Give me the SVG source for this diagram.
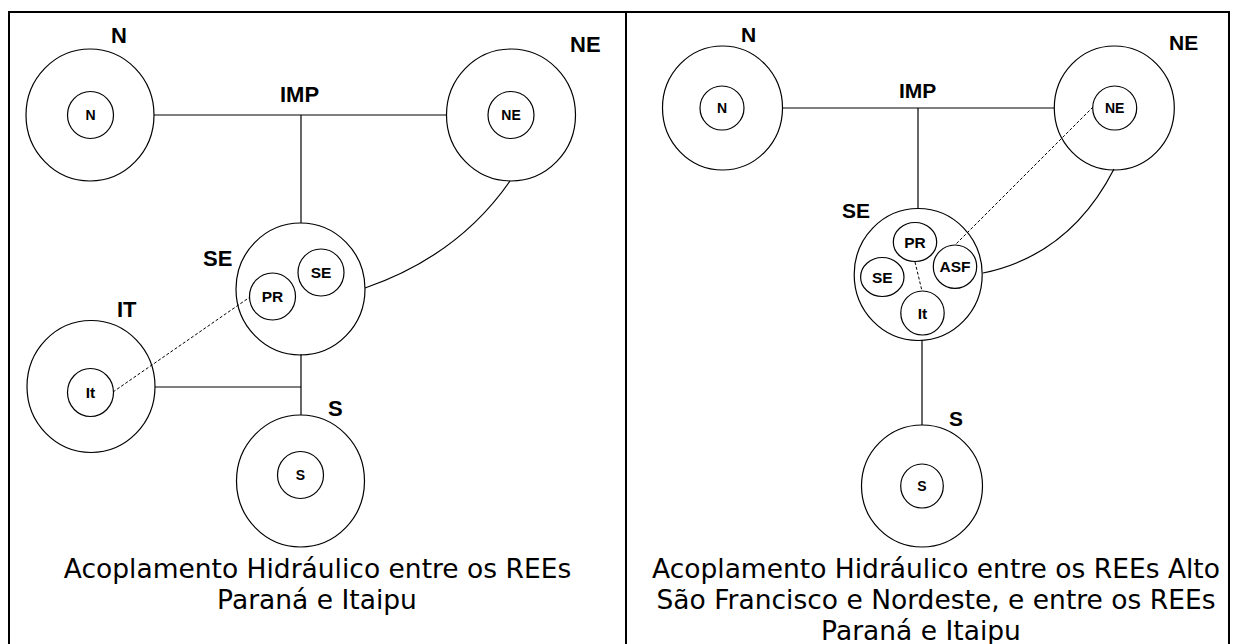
<svg xmlns="http://www.w3.org/2000/svg" width="1236" height="644" viewBox="0 0 1236 644">
<style>
.o{fill:none;stroke:#000;stroke-width:1.2}
.i{fill:none;stroke:#000;stroke-width:1.2}
.c{fill:none;stroke:#000;stroke-width:1.2}
.d{fill:none;stroke:#000;stroke-width:1;stroke-dasharray:3,2}
.L{font-family:"Liberation Sans",Arial,sans-serif;font-weight:bold;font-size:22px;fill:#000}
.R{font-family:"Liberation Sans",Arial,sans-serif;font-weight:bold;font-size:21px;fill:#000}
.s{font-family:"Liberation Sans",Arial,sans-serif;font-weight:bold;font-size:14px;fill:#000;text-anchor:middle}
.m{font-family:"Liberation Sans",Arial,sans-serif;font-weight:bold;font-size:15.5px;fill:#000;text-anchor:middle}
.cap{font-family:"DejaVu Sans",Verdana,sans-serif;font-size:26.5px;fill:#000;text-anchor:middle}
</style>
<rect x="0" y="0" width="1236" height="644" fill="#fff"/>
<g id="frame" fill="none" stroke="#000" stroke-width="2">
<rect x="9" y="12" width="1220" height="700"/>
<line x1="626" y1="12" x2="626" y2="644"/>
</g>
<g id="connectors">
<line class="c" x1="154" y1="115" x2="447" y2="115"/>
<line class="c" x1="301" y1="115" x2="301" y2="223"/>
<path class="c" d="M510 181 Q458 256 365 288"/>
<line class="c" x1="155" y1="387" x2="301" y2="387"/>
<line class="c" x1="301" y1="354" x2="301" y2="415"/>
<line class="d" x1="113" y1="392" x2="250" y2="297"/>
<line class="c" x1="783" y1="108" x2="1054" y2="108"/>
<line class="c" x1="918" y1="108" x2="918" y2="208"/>
<path class="c" d="M1114 169 Q1070 255 983 273"/>
<line class="c" x1="922" y1="340" x2="922" y2="425"/>
<line class="d" x1="1093" y1="107" x2="955" y2="245"/>
<line class="d" x1="915" y1="262" x2="922" y2="291"/>
</g>
<g id="left-N"><ellipse class="o" cx="90" cy="115" rx="64" ry="66"/><ellipse class="i" cx="90.5" cy="115" rx="23" ry="23.5"/><text class="s" x="90.5" y="120">N</text><text class="L" x="111" y="43">N</text></g>
<g id="left-IMP"><text class="L" x="280" y="102">IMP</text></g>
<g id="left-NE"><ellipse class="o" cx="511" cy="115" rx="64.5" ry="66"/><ellipse class="i" cx="511" cy="115" rx="23" ry="23.5"/><text class="s" x="511" y="120">NE</text><text class="L" x="570" y="52">NE</text></g>
<g id="left-SE"><ellipse class="o" cx="300.5" cy="289" rx="64.5" ry="66"/><ellipse class="i" cx="321" cy="272.5" rx="23" ry="23.5"/><text class="m" x="321" y="278">SE</text><ellipse class="i" cx="272.5" cy="296.5" rx="23" ry="23.5"/><text class="m" x="272.5" y="302">PR</text><text class="L" x="203" y="266">SE</text></g>
<g id="left-IT"><ellipse class="o" cx="91" cy="386.5" rx="64" ry="66"/><ellipse class="i" cx="90.5" cy="392.5" rx="23" ry="24"/><text class="m" x="90.5" y="398">It</text><text class="L" x="117" y="317">IT</text></g>
<g id="left-S"><ellipse class="o" cx="300.5" cy="481" rx="64" ry="66"/><ellipse class="i" cx="300.5" cy="475" rx="23" ry="23.5"/><text class="s" x="300.5" y="480">S</text><text class="L" x="328" y="416">S</text></g>
<g id="right-N"><ellipse class="o" cx="722.5" cy="108" rx="60" ry="62"/><ellipse class="i" cx="722" cy="108" rx="22" ry="22"/><text class="s" x="722" y="113">N</text><text class="R" x="741" y="42">N</text></g>
<g id="right-IMP"><text class="R" x="899" y="98">IMP</text></g>
<g id="right-NE"><ellipse class="o" cx="1114.3" cy="108" rx="60" ry="62"/><ellipse class="i" cx="1114.7" cy="108" rx="22" ry="22"/><text class="s" x="1114.7" y="113">NE</text><text class="R" x="1169" y="50">NE</text></g>
<g id="right-SE"><ellipse class="o" cx="918.2" cy="274.5" rx="64" ry="66"/>
<ellipse class="i" cx="915" cy="242" rx="21.7" ry="19.5"/><text class="m" x="915" y="247.5">PR</text>
<ellipse class="i" cx="955" cy="266.7" rx="21.7" ry="21.7"/><text class="m" x="955" y="272">ASF</text>
<ellipse class="i" cx="882.3" cy="277" rx="21.7" ry="19.5"/><text class="m" x="882.3" y="282.5">SE</text>
<ellipse class="i" cx="922.5" cy="313" rx="21.7" ry="22"/><text class="m" x="922.5" y="318.5">It</text>
<text class="R" x="842" y="218">SE</text></g>
<g id="right-S"><ellipse class="o" cx="922" cy="486" rx="60.5" ry="61"/><ellipse class="i" cx="922" cy="486" rx="21.3" ry="22"/><text class="s" x="922" y="491">S</text><text class="R" x="949" y="426">S</text></g>
<g id="captions">
<text class="cap" x="317.5" y="578">Acoplamento Hidráulico entre os REEs</text>
<text class="cap" x="317" y="609">Paraná e Itaipu</text>
<text class="cap" x="936" y="578">Acoplamento Hidráulico entre os REEs Alto</text>
<text class="cap" x="936" y="609">São Francisco e Nordeste, e entre os REEs</text>
<text class="cap" x="921" y="640">Paraná e Itaipu</text>
</g>
</svg>
